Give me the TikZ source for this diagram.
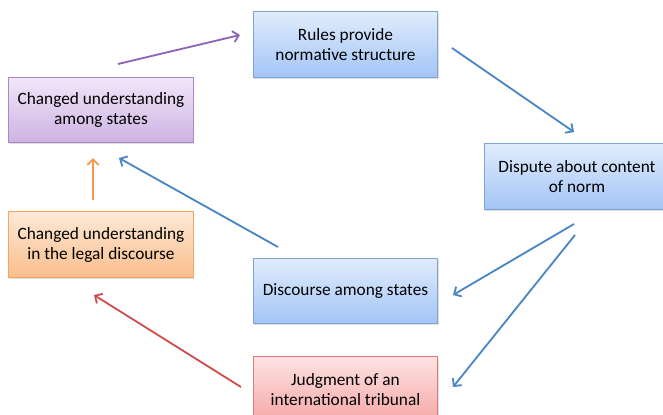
\documentclass[tikz,border=0pt]{standalone}
\usepackage{fontspec}
\setmainfont{Carlito}
\usetikzlibrary{arrows.meta,shadows}

\definecolor{bluetop}{HTML}{E0ECFC}
\definecolor{bluebot}{HTML}{A3C5F6}
\definecolor{blueline}{HTML}{7FA3D6}
\definecolor{purptop}{HTML}{F1E6F8}
\definecolor{purpbot}{HTML}{CDB3E3}
\definecolor{purpline}{HTML}{A889C6}
\definecolor{orantop}{HTML}{FDE9D7}
\definecolor{oranbot}{HTML}{FABE8C}
\definecolor{oranline}{HTML}{F2A565}
\definecolor{redtop}{HTML}{FDE2E2}
\definecolor{redbot}{HTML}{F6A7A7}
\definecolor{redline}{HTML}{E07A7A}
\definecolor{arrblue}{HTML}{4A86C5}
\definecolor{arrpurp}{HTML}{8B66B8}
\definecolor{arroran}{HTML}{F59A4B}
\definecolor{arrred}{HTML}{CC4E4E}

\tikzset{
  box/.style={draw, line width=0.8pt, minimum width=4.62cm, minimum height=1.63cm,
    align=center, font=\fontsize{12.3}{14.2}\selectfont,
    drop shadow={opacity=0.25, shadow xshift=0.6pt, shadow yshift=-1.2pt}},
  bluebox/.style={box, draw=blueline, top color=bluetop, bottom color=bluebot},
  purpbox/.style={box, draw=purpline, top color=purptop, bottom color=purpbot},
  oranbox/.style={box, draw=oranline, top color=orantop, bottom color=oranbot},
  redbox/.style={box, draw=redline, top color=redtop, bottom color=redbot},
  link/.style={line width=1.3pt, -{Straight Barb[length=4pt,width=8pt,line width=1.3pt]}}
}

\begin{document}
\begin{tikzpicture}[x=0.025cm,y=-0.025cm]
  \useasboundingbox (0,0) rectangle (663,414);
  % boxes
  \node[bluebox] (rules) at (345.5,44.5) {Rules provide\\normative structure};
  \node[purpbox] (states) at (101,110) {Changed understanding\\among states};
  \node[oranbox] (legal) at (101,244.5) {Changed understanding\\in the legal discourse};
  \node[bluebox] (dispute) at (577,176.5) {Dispute about content\\of norm};
  \node[bluebox] (discourse) at (345.5,291) {Discourse among states};
  \node[redbox] (judgment) at (345.5,389.5) {Judgment of an\\international tribunal};
  % arrow ends
  \coordinate (s1) at (118,64);   \coordinate (e1) at (240,35);
  \coordinate (s2) at (452,48);   \coordinate (e2) at (574,132);
  \coordinate (s3) at (574,224);  \coordinate (e3) at (453,295);
  \coordinate (s4) at (575,235);  \coordinate (e4) at (453,387);
  \coordinate (s5) at (278,247);  \coordinate (e5) at (119,158);
  \coordinate (s6) at (241,387);  \coordinate (e6) at (94,295);
  \coordinate (s7) at (93,200);   \coordinate (e7) at (93,158);
  \draw[link, arrpurp] (s1) -- (e1); % states -> rules
  \draw[link, arrblue] (s2) -- (e2); % rules -> dispute
  \draw[link, arrblue] (s3) -- (e3); % dispute -> discourse
  \draw[link, arrblue] (s4) -- (e4); % dispute -> judgment
  \draw[link, arrblue] (s5) -- (e5); % discourse -> states
  \draw[link, arrred]  (s6) -- (e6); % judgment -> legal
  \draw[link, arroran] (s7) -- (e7); % legal -> states
\end{tikzpicture}
\end{document}
